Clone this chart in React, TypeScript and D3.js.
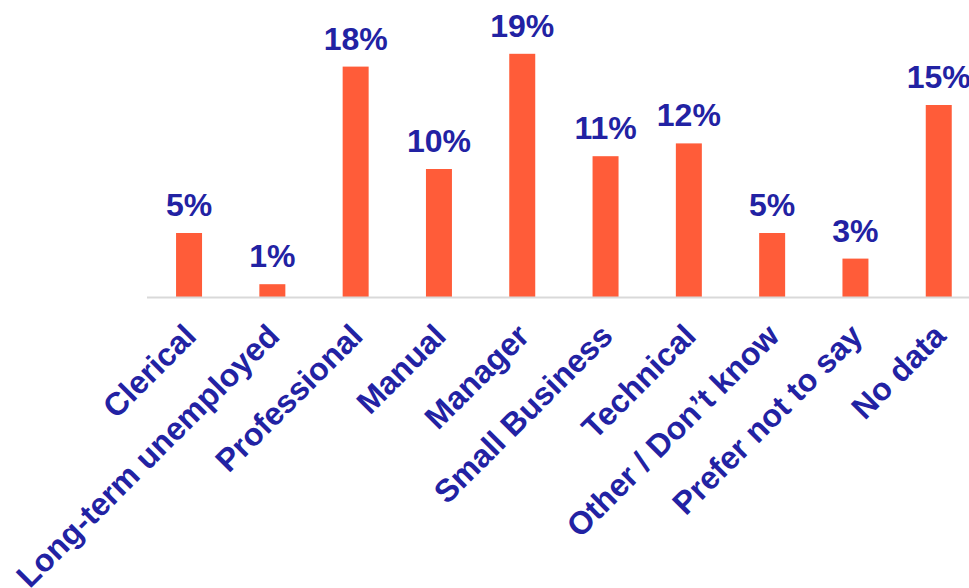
import React from "react";
import * as d3 from "d3";

const categories = [
  "Clerical",
  "Long-term unemployed",
  "Professional",
  "Manual",
  "Manager",
  "Small Business",
  "Technical",
  "Other / Don\u2019t know",
  "Prefer not to say",
  "No data",
];
const values = [5, 1, 18, 10, 19, 11, 12, 5, 3, 15];

const W = 969;
const H = 588;
const BAR = "#FF5C39";
const TXT = "#2222A3";
const FONT = "'Liberation Sans', Arial, Helvetica, sans-serif";

export default function App() {
  const x = d3
    .scaleBand<string>()
    .domain(categories)
    .range([147.4, 980.4])
    .paddingInner(0.688)
    .paddingOuter(0.344);
  const y = d3.scaleLinear().domain([0, 20]).range([297, 41]);
  const base = y(0);

  return (
    <svg
      width={W}
      height={H}
      style={{ position: "absolute", left: 0, top: 0, background: "#fff" }}
    >
      {categories.map((c, i) => {
        const bx = x(c)!;
        const bw = x.bandwidth();
        const top = y(values[i]);
        return (
          <g key={c}>
            <rect x={bx} y={top} width={bw} height={base - top} fill={BAR} />
            <text
              x={bx + bw / 2}
              y={top - 17}
              textAnchor="middle"
              fontFamily={FONT}
              fontWeight="bold"
              fontSize={32}
              fill={TXT}
            >
              {values[i]}%
            </text>
            <text
              transform={`translate(${bx + bw / 2 + 1},330) rotate(-45)`}
              textAnchor="end"
              dy="0.35em"
              fontFamily={FONT}
              fontWeight="bold"
              fontSize={32}
              fill={TXT}
            >
              {c}
            </text>
          </g>
        );
      })}
      <line x1={147} x2={969} y1={base + 0.5} y2={base + 0.5} stroke="#D9D9D9" strokeWidth={2} />
    </svg>
  );
}
